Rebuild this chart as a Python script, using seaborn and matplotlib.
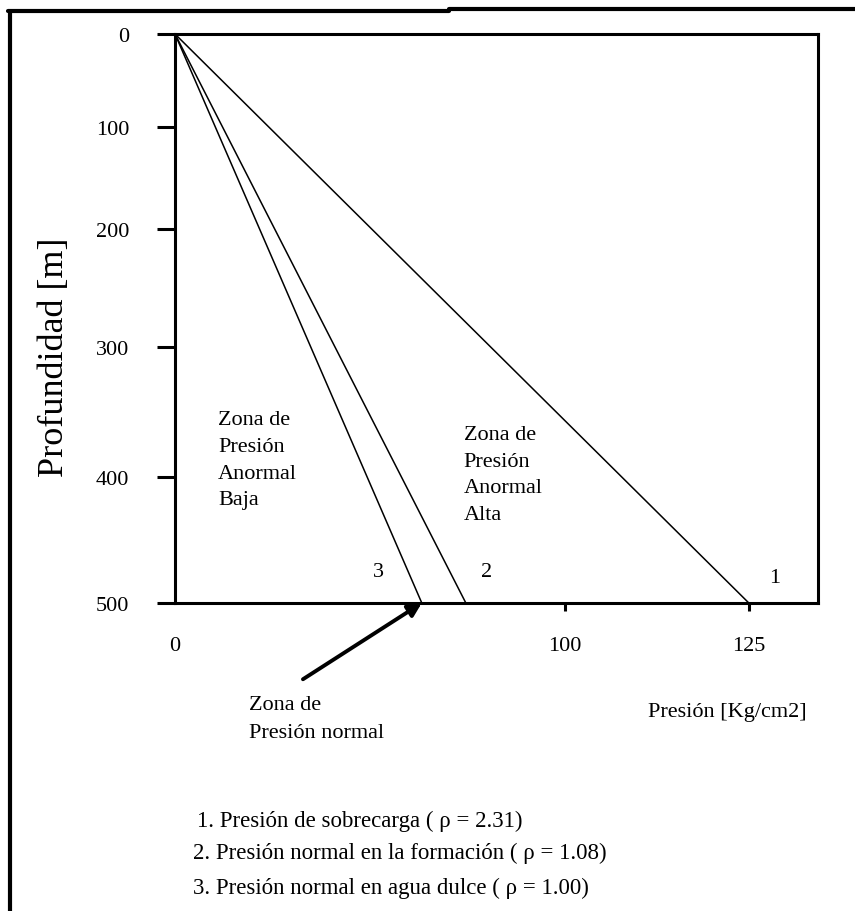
import numpy as np
import pandas as pd
import seaborn as sns
import matplotlib.pyplot as plt
from matplotlib.lines import Line2D

# depth (m) and pressure (kg/cm2) at the end of each straight line
profundidad = [0, 500]
curvas = ["1", "2", "3"]
presion_fondo = [125, 74.6, 63.3]     # 1: sobrecarga, 2: formacion, 3: agua dulce

x_ticks = [0, 100, 125]
y_ticks = [0, 100, 200, 300, 400, 500]

leyenda = [
	"1. Presión de sobrecarga ( ρ = 2.31)",
	"2. Presión normal en la formación ( ρ = 1.08)",
	"3. Presión normal en agua dulce ( ρ = 1.00)",
]

# the hand drawn axes are not evenly spaced, so use piecewise scales
x_breaks = [-10, 0, 100, 125, 150]
x_pix = [-39, 0, 390, 574, 758]
y_breaks = [-50, 0, 100, 200, 300, 400, 500, 550]
y_pix = [-46.5, 0, 93, 195, 313, 443, 569, 632]

def x_fwd(v):
	return np.interp(v, x_breaks, x_pix)

def x_inv(v):
	return np.interp(v, x_pix, x_breaks)

def y_fwd(v):
	return np.interp(v, y_breaks, y_pix)

def y_inv(v):
	return np.interp(v, y_pix, y_breaks)


rows = []
for c, p in zip(curvas, presion_fondo):
	rows.append({"curva": c, "presion": 0, "profundidad": profundidad[0]})
	rows.append({"curva": c, "presion": p, "profundidad": profundidad[1]})
df = pd.DataFrame(rows)

sns.set_style("white")
plt.rcParams['font.family'] = ['Liberation Serif', 'DejaVu Serif']
plt.rcParams['text.color'] = 'black'
plt.rcParams['axes.labelcolor'] = 'black'
plt.rcParams['axes.edgecolor'] = 'black'
plt.rcParams['xtick.color'] = 'black'
plt.rcParams['ytick.color'] = 'black'

W, H = 855, 912
fig = plt.figure(figsize=(W / 100, H / 100), dpi=100)
ax = fig.add_axes([175 / W, (H - 604) / H, (818 - 175) / W, (604 - 35) / H])

sns.lineplot(data=df, x="presion", y="profundidad", units="curva", estimator=None,
			 sort=False, color="black", lw=1.1, ax=ax)

ax.set_xscale('function', functions=(x_fwd, x_inv))
ax.set_yscale('function', functions=(y_fwd, y_inv))
ax.set_xlim(0, 134.4)
ax.set_ylim(500, 0)

for s in ax.spines.values():
	s.set_linewidth(2.2)
	s.set_color('black')

ax.set_xticks(x_ticks)
ax.set_yticks(y_ticks)
ax.tick_params(axis='x', bottom=True, direction='out', length=6, width=2.2,
			   labelsize=16, pad=18)
ax.tick_params(axis='y', left=True, direction='out', length=13, width=2.2,
			   labelsize=16, pad=20)
ax.xaxis.get_major_ticks()[0].tick1line.set_visible(False)

ax.set_xlabel("Presión [Kg/cm2]", fontsize=16, va='center')
ax.xaxis.set_label_coords(0.859, -0.19)
ax.set_ylabel("Profundidad [m]", fontsize=26, va='center')
ax.yaxis.set_label_coords(-0.187, 0.434)

ax.text(0.067, 0.339, "Zona de\nPresión\nAnormal\nBaja", transform=ax.transAxes,
		fontsize=16, va='top', ha='left', linespacing=1.55)
ax.text(0.449, 0.313, "Zona de\nPresión\nAnormal\nAlta", transform=ax.transAxes,
		fontsize=16, va='top', ha='left', linespacing=1.55)

for c, (xa, ya) in zip(curvas, [(0.933, 0.044), (0.484, 0.056), (0.316, 0.056)]):
	ax.text(xa, ya, c, transform=ax.transAxes, fontsize=16, ha='center', va='center')

ax.annotate("", xy=(presion_fondo[2], profundidad[1]), xycoords='data',
			xytext=(0.199, -0.134), textcoords='axes fraction',
			arrowprops=dict(arrowstyle='-|>', lw=2.8, color='black',
							mutation_scale=20, shrinkA=0, shrinkB=0),
			annotation_clip=False)
ax.text(0.115, -0.162, "Zona de\nPresión normal", transform=ax.transAxes,
		fontsize=16, va='top', ha='left', linespacing=1.6)

for txt, (px, py) in zip(leyenda, [(197, 821), (193, 853), (193, 888)]):
	fig.text(px / W, 1 - py / H, txt, fontsize=16.5, ha='left', va='center')

# page border
fig.add_artist(Line2D([10 / W, 10 / W], [0, 1 - 12 / H], transform=fig.transFigure,
					  color='black', lw=3))
fig.add_artist(Line2D([8 / W, 449 / W], [1 - 12 / H, 1 - 12 / H], transform=fig.transFigure,
					  color='black', lw=3))
fig.add_artist(Line2D([449 / W, 1], [1 - 9.5 / H, 1 - 9.5 / H], transform=fig.transFigure,
					  color='black', lw=3))

fig.savefig("out.png", dpi=100)
plt.close()
